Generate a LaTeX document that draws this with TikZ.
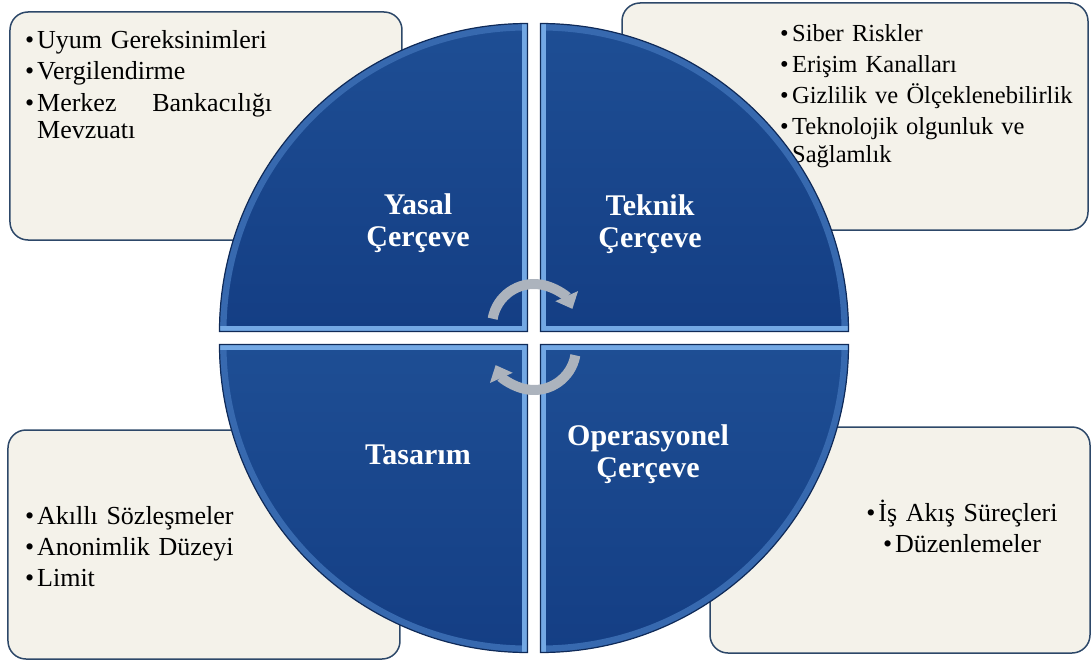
\documentclass[tikz,border=0pt]{standalone}
\usepackage{fontspec}
\setmainfont{Liberation Serif}
\usetikzlibrary{arrows.meta}

\definecolor{boxfill}{RGB}{244,242,234}
\definecolor{boxline}{RGB}{45,72,105}
\definecolor{quadtop}{RGB}{30,78,148}
\definecolor{quadbot}{RGB}{20,62,132}
\definecolor{bevel}{RGB}{115,168,228}
\definecolor{rimbevel}{RGB}{55,105,175}
\definecolor{rimline}{RGB}{15,42,88}
\definecolor{arrowgray}{RGB}{172,179,189}

\newcommand{\bul}{\makebox[12pt][l]{\textbullet}}
\newcommand{\hang}{\hspace*{12pt}}

\tikzset{
  infobox/.style={draw=boxline, line width=1.5pt, fill=boxfill, rounded corners=18pt},
  itemtext/.style={inner sep=0pt, align=left, text width=320pt, font=\fontsize{26}{28}\selectfont},
  quadlabel/.style={text=white, align=center, font=\fontsize{30}{32}\selectfont\bfseries},
  cyclearrow/.style={draw=arrowgray, line width=10pt, -{Triangle[width=24pt,length=14pt]}}
}

\begin{document}
\begin{tikzpicture}[x=1pt,y=1pt]
\useasboundingbox (-534,338) rectangle (557,-324);

\node [infobox, minimum width=392pt, minimum height=228pt] (yasalbox) at (-328,212) {};
\node [infobox, minimum width=466pt, minimum height=227pt] (teknikbox) at (321,221.5) {};
\node [infobox, minimum width=392pt, minimum height=229pt] (tasarimbox) at (-330,-206.5) {};
\node [infobox, minimum width=380pt, minimum height=226pt] (operbox) at (366,-202) {};

\node [itemtext, anchor=base west] (yasallist) at (-509,289)
  {\bul Uyum Gereksinimleri\\[3pt]
   \bul Vergilendirme\\[3pt]
   \bul\makebox[235pt][l]{Merkez\hfill Bankacılığı}\\
   \hang Mevzuatı};
\node [itemtext, anchor=base west, font=\fontsize{24.5}{27.5}\selectfont] (teknillist) at (246,296)
  {\bul Siber Riskler\\[3.5pt]
   \bul Erişim Kanalları\\[3.5pt]
   \bul Gizlilik ve Ölçeklenebilirlik\\[3.5pt]
   \bul Teknolojik olgunluk ve\\
   \hang Sağlamlık};
\node [itemtext, anchor=base west] (tasarimlist) at (-509,-186)
  {\bul Akıllı Sözleşmeler\\[3pt]
   \bul Anonimlik Düzeyi\\[3pt]
   \bul Limit};
\node [itemtext, align=center, text width=300pt, anchor=base] (operlist) at (428,-183)
  {\bul İş Akış Süreçleri\\[3pt]
   \bul Düzenlemeler};

\def\gap{6.5}
\def\rad{308pt}
\foreach \sx/\sy/\ang in {-1/1/90, 1/1/0, -1/-1/180, 1/-1/270}{
  \begin{scope}
    \clip (\sx*\gap,\sy*\gap) -- +(\ang:\rad) arc[start angle=\ang, delta angle=90, radius=\rad] -- cycle;
    \shade[top color=quadtop, bottom color=quadbot] (\sx*\gap,\sy*\gap) -- +(\ang:\rad) arc[start angle=\ang, delta angle=90, radius=\rad] -- cycle;
    \draw[rimbevel, line width=14pt] (\sx*\gap,\sy*\gap) ++(\ang:\rad) arc[start angle=\ang, delta angle=90, radius=\rad]; % outer rim
    \draw[bevel, line width=11pt] (\sx*\gap,\sy*\gap) ++(\ang:\rad) -- (\sx*\gap,\sy*\gap) -- +(\ang+90:\rad); % inner edges
  \end{scope}
  \draw[rimline, line width=1.2pt] (\sx*\gap,\sy*\gap) -- +(\ang:\rad) arc[start angle=\ang, delta angle=90, radius=\rad] -- cycle;
}

\node [quadlabel] (yasal) at (-116,115) {Yasal\\Çerçeve};
\node [quadlabel] (teknik) at (116,114) {Teknik\\Çerçeve};
\node [quadlabel] (tasarim) at (-116,-117) {Tasarım};
\node [quadlabel] (oper) at (114,-116) {Operasyonel\\Çerçeve};

\draw[cyclearrow] (0,12) ++(170:42pt) arc[start angle=170, end angle=24, radius=42pt];
\draw[cyclearrow] (0,-10) ++(-10:42pt) arc[start angle=-10, end angle=-156, radius=42pt];

\end{tikzpicture}
\end{document}
